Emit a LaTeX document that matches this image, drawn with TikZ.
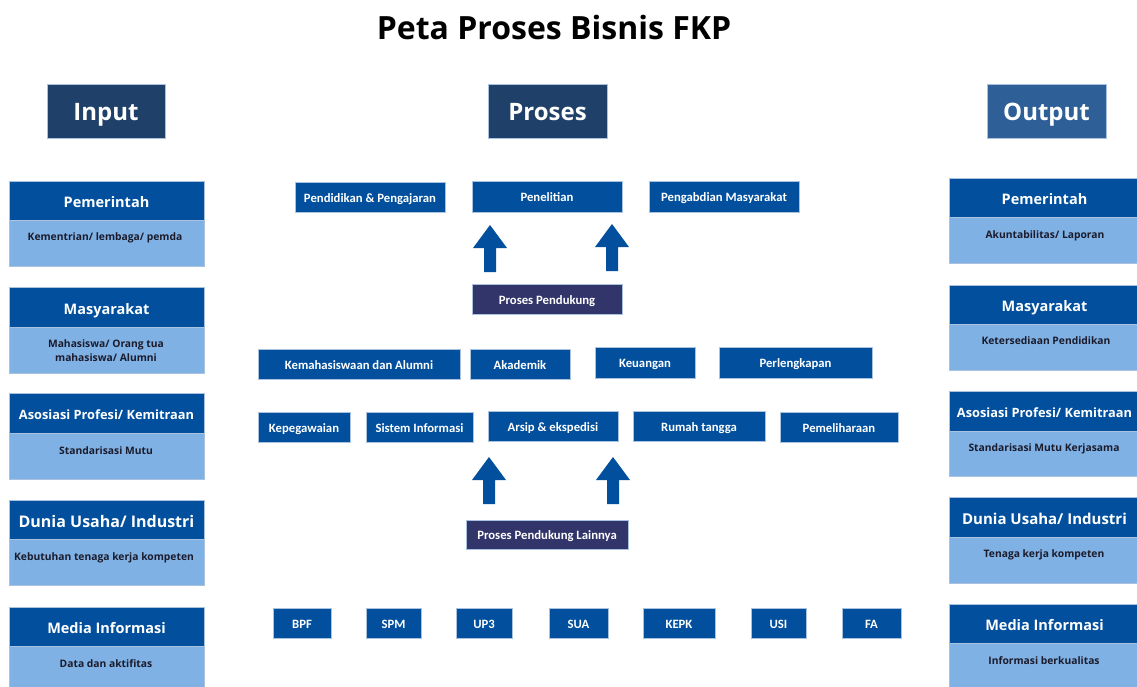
\documentclass[tikz,border=0pt]{standalone}
\usepackage{fontspec}
\setmainfont{Open Sans}
\newfontfamily\calfont{Carlito}
\definecolor{hdrblue}{HTML}{02509D}
\definecolor{lightblue}{HTML}{7FB1E5}
\definecolor{navyone}{HTML}{1F4068}
\definecolor{outblue}{HTML}{2F5F97}
\definecolor{purplenavy}{HTML}{32356A}
\definecolor{textdark}{HTML}{1B1B2B}
\definecolor{edgeline}{HTML}{A9C2E0}
\newcommand{\mkbox}[7]{%
  \node[#6, minimum width={(#4-#2)*1pt}, minimum height={(#5-#3)*1pt}] (#1) at ({(#2+#4)/2},{(#3+#5)/2}) {#7};}
\tikzset{
  x=1pt, y=-1pt,
  base/.style={rectangle, inner sep=0pt, draw=edgeline, line width=0.5pt, text depth=0pt},
  bigbox/.style={base, fill=navyone, text=white, text height=19pt, font=\fontsize{24}{28}\selectfont\bfseries},
  outbox/.style={base, fill=outblue, text=white, text height=19pt, font=\fontsize{24}{28}\selectfont\bfseries},
  panelhead/.style={base, fill=hdrblue, text=white, text height=14.4pt, font=\fontsize{14.5}{17}\selectfont\bfseries},
  panelheadbig/.style={base, fill=hdrblue, text=white, text height=15.4pt, font=\fontsize{16}{19}\selectfont\bfseries},
  panelheadmid/.style={base, fill=hdrblue, text=white, text height=14.8pt, font=\fontsize{15}{18}\selectfont\bfseries},
  panelheadsmall/.style={base, fill=hdrblue, text=white, text height=13.1pt, font=\fontsize{12.8}{15}\selectfont\bfseries},
  panelbody/.style={base, fill=lightblue},
  bodytext/.style={inner sep=0pt, text=textdark, align=center, font=\fontsize{10.3}{14}\selectfont\bfseries},
  procbox/.style={base, fill=hdrblue, text=white, text height=10.2pt, font=\calfont\fontsize{12.7}{15}\selectfont\bfseries},
  suppbox/.style={base, fill=purplenavy, text=white, text height=10.2pt, font=\calfont\fontsize{12.7}{15}\selectfont\bfseries},
  uparr/.pic={\fill[hdrblue] (0,0) -- (17,23) -- (6,23) -- (6,47) -- (-6,47) -- (-6,23) -- (-17,23) -- cycle;}
}
\begin{document}
\begin{tikzpicture}
\useasboundingbox (0,0) rectangle (1137,686);
\fill[white] (0,0) rectangle (1137,686);

% title
\node[inner sep=0pt, text height=22.8pt, text depth=0pt, font=\fontsize{32}{36}\selectfont\bfseries] (title) at (554,28) {Peta Proses Bisnis FKP};

% column headings
\mkbox{input}{47}{84}{165}{138}{bigbox}{Input}
\mkbox{proses}{488}{84}{607}{138}{bigbox}{Proses}
\mkbox{output}{987}{84}{1106}{138}{outbox}{Output}

% left panels
\mkbox{lh1}{9}{181}{204}{220}{panelhead}{Pemerintah}
\mkbox{lb1}{9}{220}{204}{266}{panelbody}{}
\node[bodytext] (lt1) at (105,238) {Kementrian/ lembaga/ pemda};
\mkbox{lh2}{9}{287}{204}{327}{panelhead}{Masyarakat}
\mkbox{lb2}{9}{327}{204}{373}{panelbody}{}
\node[bodytext] (lt2) at (106,351) {Mahasiswa/ Orang tua\\mahasiswa/ Alumni};
\mkbox{lh3}{9}{393}{204}{433}{panelheadsmall}{Asosiasi Profesi/ Kemitraan}
\mkbox{lb3}{9}{433}{204}{479}{panelbody}{}
\node[bodytext] (lt3) at (106,451) {Standarisasi Mutu};
\mkbox{lh4}{9}{500}{204}{539}{panelheadbig}{Dunia Usaha/ Industri}
\mkbox{lb4}{9}{539}{204}{585}{panelbody}{}
\node[bodytext] (lt4) at (104,558) {Kebutuhan tenaga kerja kompeten};
\mkbox{lh5}{9}{607}{204}{646}{panelhead}{Media Informasi}
\mkbox{lb5}{9}{646}{204}{690}{panelbody}{}
\node[bodytext] (lt5) at (106,664) {Data dan aktifitas};

% right panels
\mkbox{rh1}{949}{178}{1140}{217}{panelhead}{Pemerintah}
\mkbox{rb1}{949}{217}{1140}{263}{panelbody}{}
\node[bodytext] (rt1) at (1045,236) {Akuntabilitas/ Laporan};
\mkbox{rh2}{949}{285}{1140}{324}{panelhead}{Masyarakat}
\mkbox{rb2}{949}{324}{1140}{370}{panelbody}{}
\node[bodytext] (rt2) at (1046,341) {Ketersediaan Pendidikan};
\mkbox{rh3}{949}{391}{1140}{431}{panelheadsmall}{Asosiasi Profesi/ Kemitraan}
\mkbox{rb3}{949}{431}{1140}{476}{panelbody}{}
\node[bodytext] (rt3) at (1044,449) {Standarisasi Mutu Kerjasama};
\mkbox{rh4}{949}{497}{1140}{537}{panelheadmid}{Dunia Usaha/ Industri}
\mkbox{rb4}{949}{537}{1140}{583}{panelbody}{}
\node[bodytext] (rt4) at (1044,555) {Tenaga kerja kompeten};
\mkbox{rh5}{949}{604}{1140}{643}{panelhead}{Media Informasi}
\mkbox{rb5}{949}{643}{1140}{690}{panelbody}{}
\node[bodytext] (rt5) at (1044,661) {Informasi berkualitas};

% core processes
\mkbox{pend}{295}{182}{445}{212}{procbox}{Pendidikan \& Pengajaran}
\mkbox{pene}{472}{181}{622}{212}{procbox}{Penelitian}
\mkbox{peng}{649}{181}{799}{212}{procbox}{Pengabdian Masyarakat}

\pic at (490,225) {uparr};
\pic at (612,224) {uparr};

\mkbox{pp}{472}{284}{622}{314}{suppbox}{Proses Pendukung}

% support row 1
\mkbox{kema}{258}{349}{460}{379}{procbox}{Kemahasiswaan dan Alumni}
\mkbox{akad}{470}{349}{570}{379}{procbox}{Akademik}
\mkbox{keua}{595}{347}{695}{378}{procbox}{Keuangan}
\mkbox{perl}{719}{347}{872}{378}{procbox}{Perlengkapan}
% support row 2
\mkbox{kepe}{258}{412}{350}{442}{procbox}{Kepegawaian}
\mkbox{sist}{366}{412}{473}{442}{procbox}{Sistem Informasi}
\mkbox{arsi}{488}{411}{618}{441}{procbox}{Arsip \& ekspedisi}
\mkbox{ruma}{633}{411}{765}{441}{procbox}{Rumah tangga}
\mkbox{peme}{780}{412}{898}{442}{procbox}{Pemeliharaan}

\pic at (489,457) {uparr};
\pic at (613,457) {uparr};

\mkbox{ppl}{466}{520}{628}{549}{suppbox}{Proses Pendukung Lainnya}

% units
\mkbox{bpf}{273}{608}{331}{638}{procbox}{BPF}
\mkbox{spm}{366}{608}{421}{638}{procbox}{SPM}
\mkbox{upt}{456}{608}{512}{638}{procbox}{UP3}
\mkbox{sua}{549}{608}{608}{638}{procbox}{SUA}
\mkbox{kepk}{643}{608}{715}{638}{procbox}{KEPK}
\mkbox{usi}{751}{608}{806}{638}{procbox}{USI}
\mkbox{fa}{842}{608}{901}{638}{procbox}{FA}
\end{tikzpicture}
\end{document}
